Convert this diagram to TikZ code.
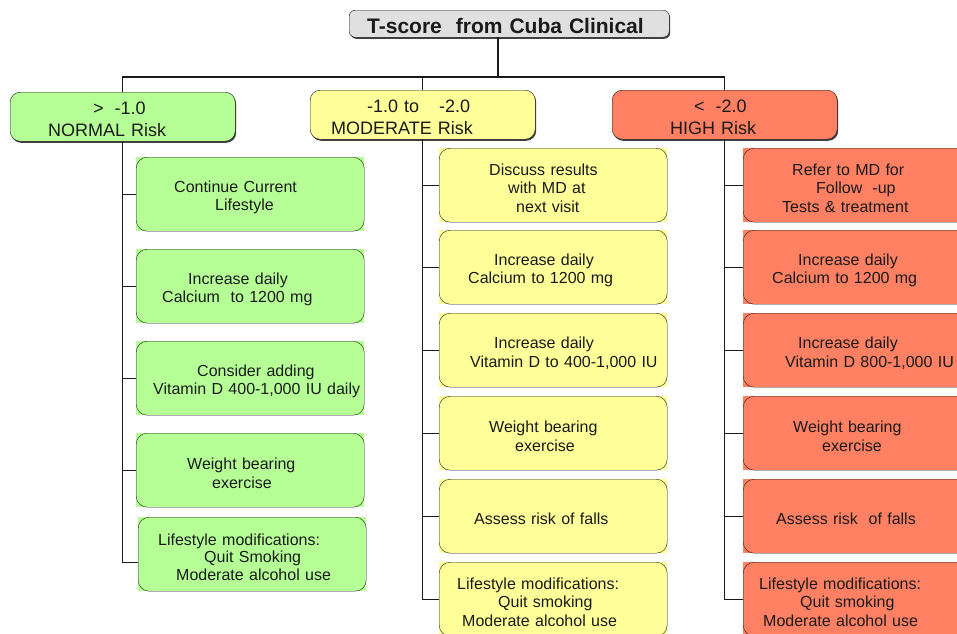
\documentclass[tikz,border=0pt]{standalone}
\usepackage{fontspec}
\setmainfont{Liberation Sans}
\usetikzlibrary{shadows,backgrounds,calc}
\definecolor{cgreen}{HTML}{B5FF96}
\definecolor{cyellow}{HTML}{FFFF99}
\definecolor{csalmon}{HTML}{FF8062}
\definecolor{cgray}{HTML}{E0E0E0}
\definecolor{ink}{HTML}{1A1A1A}
\begin{document}
\begin{tikzpicture}[x=1pt,y=-1pt,
  shade/.style={drop shadow={shadow xshift=1pt, shadow yshift=-1.6pt, opacity=1, fill=black!75}},
  titlebox/.style={draw=ink, fill=cgray, rounded corners=6pt, text width=320pt, minimum height=27pt,
    inner xsep=0pt, inner ysep=0pt, align=left, anchor=north west, text=ink,
    font=\fontsize{21}{24}\selectfont\bfseries, shade, execute at begin node={\rule{0pt}{19pt}}},
  head/.style={draw=ink, rounded corners=10pt, text width=225pt, minimum height=49pt,
    inner xsep=0pt, inner ysep=0pt, align=left, anchor=north west, text=ink,
    font=\fontsize{18}{21.7}\selectfont, shade, execute at begin node={\rule{0pt}{18pt}}},
  kid/.style={draw=ink, rounded corners=11pt, text width=228pt, minimum height=74pt,
    inner xsep=0pt, inner ysep=0pt, align=left, anchor=north west, text=ink,
    font=\fontsize{16}{18.5}\selectfont, execute at begin node={\rule{0pt}{17.5pt}}},
  wire/.style={draw=ink, line width=1.2pt}]
\useasboundingbox (0,0) rectangle (957,633);
\clip (0,0) rectangle (957,633);

% title
\node[titlebox] (title) at (349,10) {\hspace*{18pt}T-score\ \ from Cuba Clinical};

% level 1
\node[head, fill=cgreen] (nrm) at (10,92) {\hspace*{83pt}>\hspace{11pt}-1.0\\\hspace*{38pt}NORMAL Risk};
\node[head, fill=cyellow] (mod) at (310,90) {\hspace*{57pt}-1.0 to\hspace{20pt}-2.0\\\hspace*{21pt}MODERATE Risk};
\node[head, fill=csalmon] (hig) at (612,90) {\hspace*{82pt}<\hspace{11pt}-2.0\\\hspace*{58pt}HIGH Risk};

% normal column
\node[kid] (n1) at (136,157) {\hspace*{38pt}Continue Current\\\hspace*{79pt}Lifestyle};
\node[kid] (n2) at (136,249) {\hspace*{52pt}Increase daily\\\hspace*{26pt}Calcium\ \ to 1200 mg};
\node[kid] (n3) at (136,341) {\hspace*{61pt}Consider adding\\\hspace*{17pt}Vitamin D 400-1,000 IU daily};
\node[kid] (n4) at (136,433) {\hspace*{51pt}Weight bearing\\\hspace*{76pt}exercise};
\node[kid, font=\fontsize{16}{17.6}\selectfont] (n5) at (138,517) {\hspace*{20pt}Lifestyle modifications:\\\hspace*{66pt}Quit Smoking\\\hspace*{38pt}Moderate alcohol use};

% moderate column
\node[kid] (m1) at (439,148) {\hspace*{50pt}Discuss results\\\hspace*{69pt}with MD at\\\hspace*{77pt}next visit};
\node[kid] (m2) at (439,230) {\hspace*{55pt}Increase daily\\\hspace*{29pt}Calcium to 1200 mg};
\node[kid] (m3) at (439,313) {\hspace*{55pt}Increase daily\\\hspace*{31pt}Vitamin D to 400-1,000 IU};
\node[kid] (m4) at (439,396) {\hspace*{50pt}Weight bearing\\\hspace*{76pt}exercise};
\node[kid] (m5) at (439,479) {\hspace*{35pt}Assess risk of falls};
\node[kid] (m6) at (439,562) {\hspace*{18pt}Lifestyle modifications:\\\hspace*{59pt}Quit smoking\\\hspace*{23pt}Moderate alcohol use};

% high column
\node[kid] (h1) at (743,148) {\hspace*{49pt}Refer to MD for\\\hspace*{73pt}Follow\hspace{10pt}-up\\\hspace*{39pt}Tests \& treatment};
\node[kid] (h2) at (743,230) {\hspace*{55pt}Increase daily\\\hspace*{29pt}Calcium to 1200 mg};
\node[kid] (h3) at (743,313) {\hspace*{55pt}Increase daily\\\hspace*{42pt}Vitamin D 800-1,000 IU};
\node[kid] (h4) at (743,396) {\hspace*{50pt}Weight bearing\\\hspace*{79pt}exercise};
\node[kid] (h5) at (743,479) {\hspace*{33pt}Assess risk\ \ of falls};
\node[kid] (h6) at (743,562) {\hspace*{16pt}Lifestyle modifications:\\\hspace*{57pt}Quit smoking\\\hspace*{20pt}Moderate alcohol use};

% square fills behind the rounded child borders
\begin{scope}[on background layer]
  \foreach \k in {n1,n2,n3,n4,n5} \fill[cgreen] (\k.south west) rectangle (\k.north east);
  \foreach \k in {m1,m2,m3,m4,m5,m6} \fill[cyellow] (\k.south west) rectangle (\k.north east);
  \foreach \k in {h1,h2,h3,h4,h5,h6} \fill[csalmon] (\k.south west) rectangle (\k.north east);
\end{scope}

% connectors from title
\coordinate (j0) at (498,77);
\draw[wire] (title.south -| j0) -- (j0);
\draw[wire] (nrm.north) -- (nrm.north |- j0) -- (hig.north |- j0) -- (hig.north);
\draw[wire] (mod.north) -- (mod.north |- j0);

% normal column connectors
\coordinate (n5s) at ($(n5.west)+(0,8)$);
\draw[wire] (nrm.south) |- (n5s);
\foreach \k in {n1,n2,n3,n4} \draw[wire] (nrm.south |- \k.west) -- (\k.west);

% moderate column connectors
\draw[wire] (mod.south) |- (m6.west);
\foreach \k in {m1,m2,m3,m4,m5} \draw[wire] (mod.south |- \k.west) -- (\k.west);

% high column connectors
\draw[wire] (hig.south) |- (h6.west);
\foreach \k in {h1,h2,h3,h4,h5} \draw[wire] (hig.south |- \k.west) -- (\k.west);
\end{tikzpicture}
\end{document}
